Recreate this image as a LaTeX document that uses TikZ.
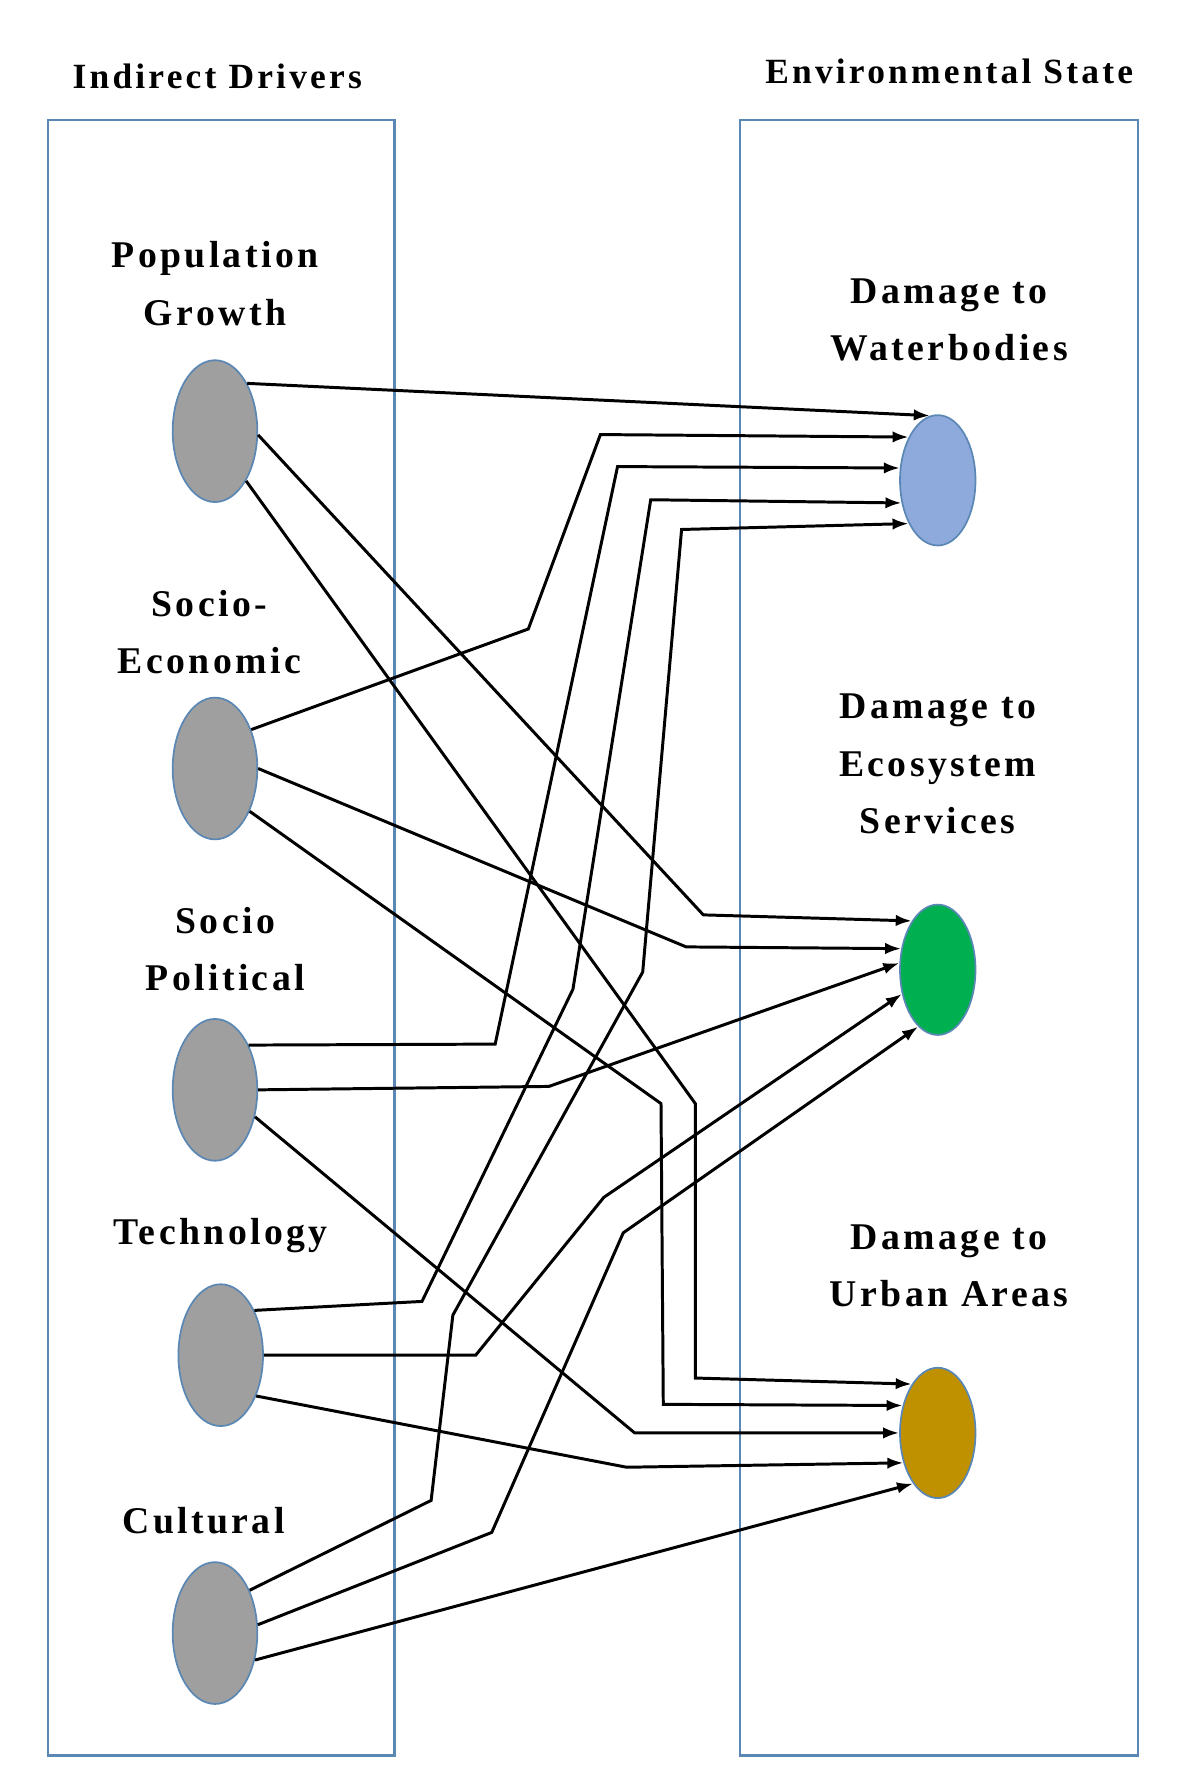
\documentclass[tikz,border=0pt]{standalone}
\usepackage{fontspec}
\setmainfont{Liberation Serif}
\newfontfamily\spaced[LetterSpace=9]{Liberation Serif}
\usetikzlibrary{shapes.geometric,arrows.meta}
\definecolor{steel}{RGB}{90,135,180}
\begin{document}
\begin{tikzpicture}[x=1pt,y=-1pt,
  box/.style={draw=steel,line width=2pt},
  drv/.style={ellipse,draw=steel,line width=1.5pt,fill=gray!75,minimum width=74pt,minimum height=124pt,inner sep=0pt},
  st/.style={ellipse,draw=steel,line width=1.5pt,minimum width=66pt,minimum height=114pt,inner sep=0pt},
  lab/.style={font=\spaced\fontsize{33}{50}\selectfont\bfseries,align=center},
  ttl/.style={font=\spaced\fontsize{31}{36}\selectfont\bfseries},
  arr/.style={-{Latex[length=14pt,width=10pt]},line width=2.6pt}]
\useasboundingbox (0,0) rectangle (1050,1560);
\node[box,minimum width=303pt,minimum height=1430pt,inner sep=0pt] (lb) at (193.5,820) {};
\node[box,minimum width=348pt,minimum height=1430pt,inner sep=0pt] (rb) at (821,820) {};
\node[ttl] (t1) at (190,67) {Indirect Drivers};
\node[ttl] (t2) at (830,62) {Environmental State};
\node[lab] (l1) at (188,248) {Population\\Growth};
\node[lab] (l2) at (183,553) {Socio-\\Economic};
\node[lab] (l3) at (197,830) {Socio\\Political};
\node[lab] (l4) at (193,1080) {Technology};
\node[lab] (l5) at (178,1330) {Cultural};
\node[lab] (r1) at (830,280) {Damage to\\Waterbodies};
\node[lab] (r2) at (820,668) {Damage to\\Ecosystem\\Services};
\node[lab] (r3) at (830,1107) {Damage to\\Urban Areas};
\node[drv] (p) at (188,377) {};
\node[drv] (e) at (188,672) {};
\node[drv] (s) at (188,953) {};
\node[drv] (t) at (193,1185) {};
\node[drv] (c) at (188,1428) {};
\node[st,fill={rgb,255:red,142;green,169;blue,219}] (w) at (820,420) {};
\node[st,fill={rgb,255:red,0;green,176;blue,80}] (g) at (820,848) {};
\node[st,fill={rgb,255:red,191;green,144;blue,0}] (u) at (820,1253) {};
% population
\draw[arr] (p.56) -- (w.97);
\draw[arr] (p.-5) -- (615,800) -- (g.118);
\draw[arr] (p.-58) -- (608,965) -- (608,1205) -- (u.118);
% socio-economic
\draw[arr] (e.47) -- (462,550) -- (525,380) -- (w.124);
\draw[arr] (e.0) -- (600,828) -- (g.150);
\draw[arr] (e.-51) -- (578,965) -- (580,1228) -- (u.142);
% socio political
\draw[arr] (s.53) -- (433,913) -- (540,408) -- (w.162);
\draw[arr] (s.0) -- (480,950) -- (g.170);
\draw[arr] (s.-34) -- (555,1253) -- (u.180);
% technology
\draw[arr] (t.53) -- (369,1138) -- (501,865) -- (569,437) -- (w.212);
\draw[arr] (t.0) -- (416,1185) -- (528,1047) -- (g.214);
\draw[arr] (t.-49) -- (548,1283) -- (u.221);
% cultural
\draw[arr] (c.51) -- (377,1312) -- (396,1150) -- (562,850) -- (596,463) -- (w.236);
\draw[arr] (c.11) -- (430,1340) -- (545,1078) -- (g.251);
\draw[arr] (c.-34) -- (u.244);
\end{tikzpicture}
\end{document}
